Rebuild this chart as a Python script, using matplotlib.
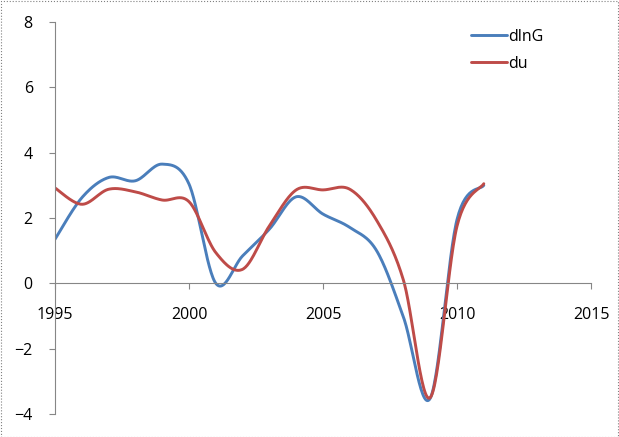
import numpy as np
import matplotlib.pyplot as plt
from matplotlib.patches import Rectangle

years = list(range(1995, 2012))
dlnG = [1.35, 2.62, 3.24, 3.14, 3.65, 3.04, 0.0, 0.84, 1.66, 2.65,
        2.12, 1.71, 1.0, -1.03, -3.52, 1.95, 3.0]
du = [2.92, 2.42, 2.88, 2.8, 2.55, 2.5, 0.94, 0.43, 1.76, 2.86,
      2.86, 2.88, 1.93, 0.1, -3.5, 1.75, 3.05]


def smooth(x, y, n=30):
    # excel-like smoothed line: cubic bezier through points (catmull-rom style)
    x = np.asarray(x, float)
    y = np.asarray(y, float)
    px = np.concatenate([[x[0]], x, [x[-1]]])
    py = np.concatenate([[y[0]], y, [y[-1]]])
    xs, ys = [], []
    t = np.linspace(0, 1, n)
    for i in range(1, len(px) - 2):
        p0 = np.array([px[i], py[i]])
        p3 = np.array([px[i + 1], py[i + 1]])
        c1 = p0 + (np.array([px[i + 1], py[i + 1]]) - np.array([px[i - 1], py[i - 1]])) / 6
        c2 = p3 - (np.array([px[i + 2], py[i + 2]]) - np.array([px[i], py[i]])) / 6
        b = ((1 - t) ** 3)[:, None] * p0 + (3 * (1 - t) ** 2 * t)[:, None] * c1 \
            + (3 * (1 - t) * t ** 2)[:, None] * c2 + (t ** 3)[:, None] * p3
        xs.extend(b[:, 0])
        ys.extend(b[:, 1])
    return xs, ys


plt.rcParams['font.family'] = ['Open Sans', 'DejaVu Sans']

fig = plt.figure(figsize=(6.19, 4.37), dpi=100)
ax = fig.add_axes([55 / 619, 1 - 414 / 437, 536 / 619, 392 / 437])

gx, gy = smooth(years, dlnG)
ux, uy = smooth(years, du)
ax.plot(gx, gy, color='#4A7EBB', lw=2.1, label='dlnG', solid_capstyle='round')
ax.plot(ux, uy, color='#BE4B48', lw=2.1, label='du', solid_capstyle='round')

ax.set_xlim(1995, 2015)
ax.set_ylim(-4, 8)
ax.set_xticks([1995, 2000, 2005, 2010, 2015])
ax.set_yticks([-4, -2, 0, 2, 4, 6, 8])

ax.spines['top'].set_visible(False)
ax.spines['right'].set_visible(False)
ax.spines['bottom'].set_position(('data', 0))
for s in ['left', 'bottom']:
    ax.spines[s].set_color('#868686')
    ax.spines[s].set_linewidth(0.8)
ax.tick_params(axis='both', colors='#868686', length=4, width=0.8, labelsize=11.5, labelcolor='black')
ax.tick_params(axis='x', pad=13)
ax.tick_params(axis='y', pad=12)

ax.legend(loc='upper left', bbox_to_anchor=(0.75, 1.02), frameon=False, fontsize=11.5,
          handlelength=2.2, handletextpad=0.1, labelspacing=0.7)

fig.patches.append(Rectangle((0.001, 0.001), 0.997, 0.997, transform=fig.transFigure,
                             fill=False, edgecolor='#808080', lw=0.8, ls=':'))

fig.savefig('out.png', dpi=100)
